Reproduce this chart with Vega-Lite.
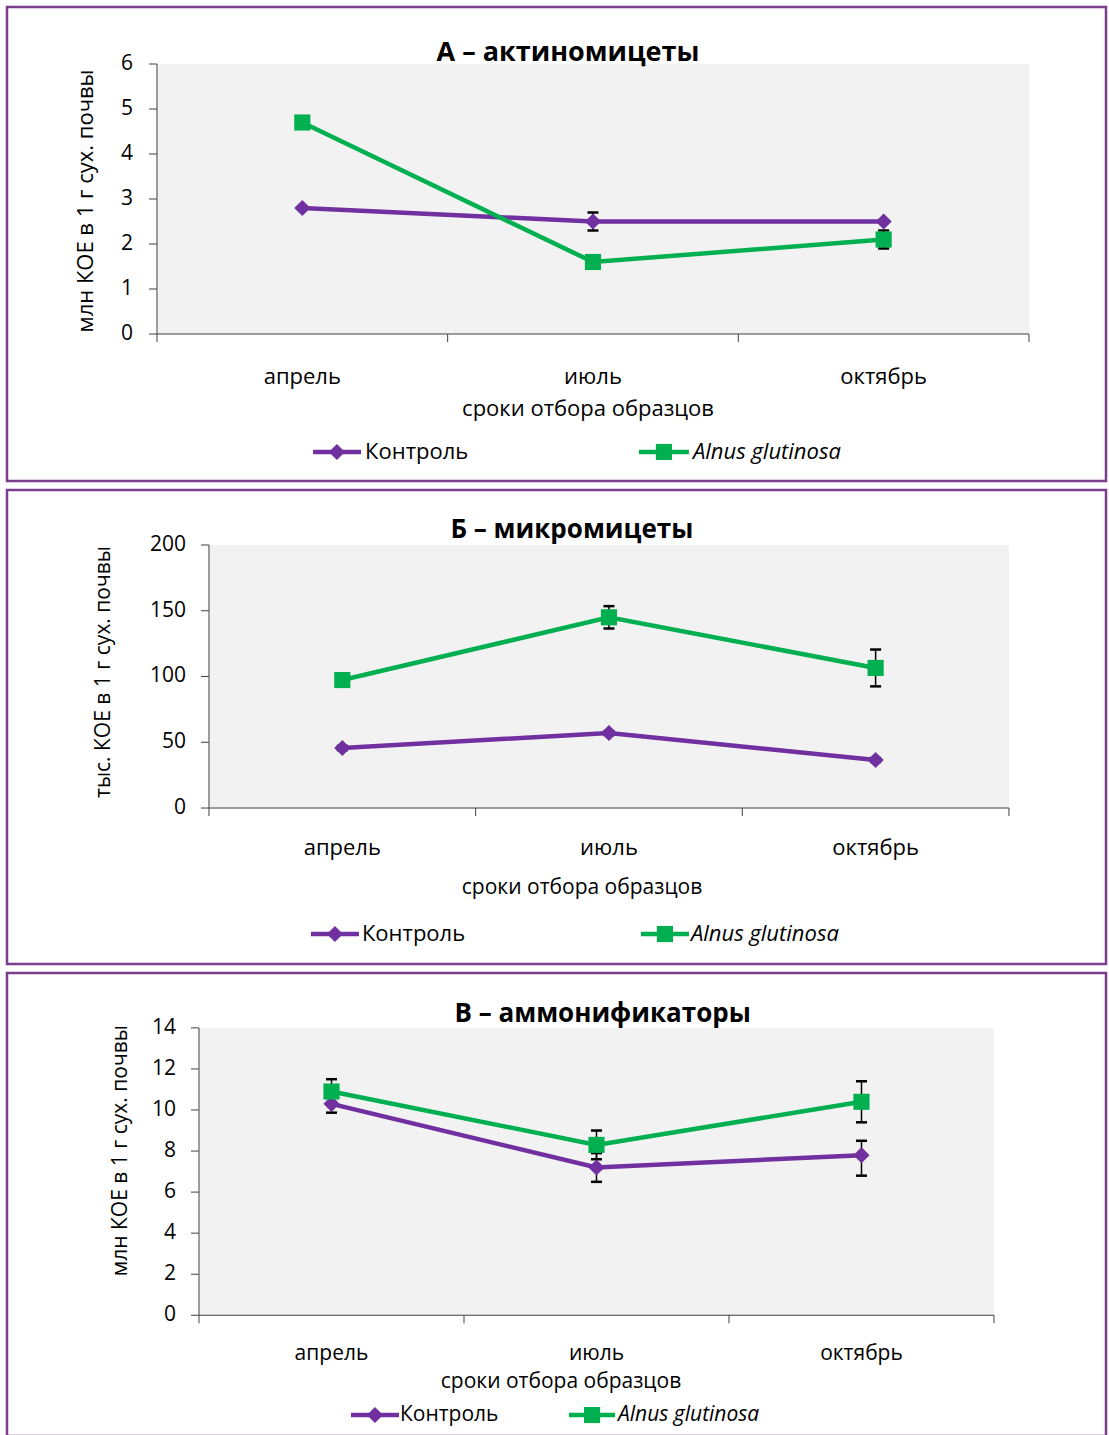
{
  "$schema": "https://vega.github.io/schema/vega-lite/v6.json",
  "padding": {"left": 5, "top": 5, "right": 0, "bottom": 0},
  "spacing": 5,
  "background": "white",
  "config": {
    "font": "Open Sans",
    "view": {"stroke": "#7B3D8E", "strokeWidth": 2.5, "fill": "white"},
    "legend": {"disable": true}
  },
  "datasets": {
    "months": [
      {"m": 4, "month": "апрель"},
      {"m": 7, "month": "июль"},
      {"m": 10, "month": "октябрь"}
    ],
    "bounds": [{"b": 2.5}, {"b": 5.5}, {"b": 8.5}, {"b": 11.5}],
    "tA": [{"t": 0}, {"t": 1}, {"t": 2}, {"t": 3}, {"t": 4}, {"t": 5}, {"t": 6}],
    "tB": [{"t": 0}, {"t": 50}, {"t": 100}, {"t": 150}, {"t": 200}],
    "tC": [{"t": 0}, {"t": 2}, {"t": 4}, {"t": 6}, {"t": 8}, {"t": 10}, {"t": 12}, {"t": 14}],
    "A": [
      {"m": 4, "series": "Контроль", "v": 2.8, "lo": 2.78, "hi": 2.82},
      {"m": 7, "series": "Контроль", "v": 2.5, "lo": 2.3, "hi": 2.7},
      {"m": 10, "series": "Контроль", "v": 2.5, "lo": 2.47, "hi": 2.53},
      {"m": 4, "series": "Alnus glutinosa", "v": 4.7, "lo": 4.65, "hi": 4.75},
      {"m": 7, "series": "Alnus glutinosa", "v": 1.6, "lo": 1.55, "hi": 1.65},
      {"m": 10, "series": "Alnus glutinosa", "v": 2.1, "lo": 1.9, "hi": 2.3}
    ],
    "B": [
      {"m": 4, "series": "Контроль", "v": 45.6, "lo": 44, "hi": 47.2},
      {"m": 7, "series": "Контроль", "v": 57, "lo": 55.5, "hi": 58.5},
      {"m": 10, "series": "Контроль", "v": 36.5, "lo": 35, "hi": 38},
      {"m": 4, "series": "Alnus glutinosa", "v": 97.3, "lo": 94.5, "hi": 100},
      {"m": 7, "series": "Alnus glutinosa", "v": 145, "lo": 136.5, "hi": 153.5},
      {"m": 10, "series": "Alnus glutinosa", "v": 106.5, "lo": 92.5, "hi": 120.5}
    ],
    "C": [
      {"m": 4, "series": "Контроль", "v": 10.3, "lo": 9.87, "hi": 10.73},
      {"m": 7, "series": "Контроль", "v": 7.2, "lo": 6.5, "hi": 7.9},
      {"m": 10, "series": "Контроль", "v": 7.8, "lo": 6.8, "hi": 8.5},
      {"m": 4, "series": "Alnus glutinosa", "v": 10.9, "lo": 10.3, "hi": 11.5},
      {"m": 7, "series": "Alnus glutinosa", "v": 8.3, "lo": 7.6, "hi": 9.0},
      {"m": 10, "series": "Alnus glutinosa", "v": 10.4, "lo": 9.4, "hi": 11.4}
    ]
  },
  "vconcat": [
    {
      "width": 1099, "height": 474,
      "layer": [
        {"data": {"values": [{}]}, "mark": {"type": "rect", "fill": "#F2F2F2"},
         "encoding": {
           "x": {"datum": 2.5, "type": "quantitative", "scale": {"domain": [0.952, 12.295], "nice": false, "zero": false}, "axis": null},
           "x2": {"datum": 11.5},
           "y": {"datum": 0, "type": "quantitative", "scale": {"domain": [-3.267, 7.267], "nice": false, "zero": false}, "axis": null},
           "y2": {"datum": 6}}},
        {"data": {"values": [{}]}, "mark": {"type": "rule", "color": "#404040", "strokeWidth": 1},
         "encoding": {
           "x": {"datum": 2.5, "type": "quantitative", "scale": {"domain": [0.952, 12.295], "nice": false, "zero": false}, "axis": null},
           "x2": {"datum": 11.5},
           "y": {"datum": 0, "type": "quantitative", "scale": {"domain": [-3.267, 7.267], "nice": false, "zero": false}, "axis": null}}},
        {"data": {"values": [{}]}, "mark": {"type": "rule", "color": "#404040", "strokeWidth": 1},
         "encoding": {
           "x": {"datum": 2.5, "type": "quantitative", "scale": {"domain": [0.952, 12.295], "nice": false, "zero": false}, "axis": null},
           "y": {"datum": 0, "type": "quantitative", "scale": {"domain": [-3.267, 7.267], "nice": false, "zero": false}, "axis": null},
           "y2": {"datum": 6}}},
        {"data": {"name": "tA"}, "mark": {"type": "rule", "color": "#404040", "strokeWidth": 1},
         "encoding": {
           "x": {"datum": 2.4174, "type": "quantitative", "scale": {"domain": [0.952, 12.295], "nice": false, "zero": false}, "axis": null},
           "x2": {"datum": 2.5},
           "y": {"field": "t", "type": "quantitative", "scale": {"domain": [-3.267, 7.267], "nice": false, "zero": false}, "axis": null}}},
        {"data": {"name": "tA"}, "mark": {"type": "text", "fontSize": 21, "color": "black", "align": "right", "baseline": "middle"},
         "encoding": {
           "x": {"datum": 2.252, "type": "quantitative", "scale": {"domain": [0.952, 12.295], "nice": false, "zero": false}, "axis": null},
           "y": {"field": "t", "type": "quantitative", "scale": {"domain": [-3.267, 7.267], "nice": false, "zero": false}, "axis": null},
           "text": {"field": "t", "type": "quantitative", "format": "d"}}},
        {"data": {"name": "bounds"}, "mark": {"type": "rule", "color": "#404040", "strokeWidth": 1},
         "encoding": {
           "x": {"field": "b", "type": "quantitative", "scale": {"domain": [0.952, 12.295], "nice": false, "zero": false}, "axis": null},
           "y": {"datum": 0, "type": "quantitative", "scale": {"domain": [-3.267, 7.267], "nice": false, "zero": false}, "axis": null},
           "y2": {"datum": -0.178}}},
        {"data": {"name": "A"}, "mark": {"type": "line", "strokeWidth": 4.5},
         "encoding": {
           "x": {"field": "m", "type": "quantitative", "scale": {"domain": [0.952, 12.295], "nice": false, "zero": false}, "axis": null},
           "y": {"field": "v", "type": "quantitative", "scale": {"domain": [-3.267, 7.267], "nice": false, "zero": false}, "axis": null},
           "color": {"field": "series", "type": "nominal", "scale": {"domain": ["Контроль", "Alnus glutinosa"], "range": ["#7030A0", "#00B050"]}}}},
        {"data": {"name": "A"}, "mark": {"type": "rule", "color": "black", "strokeWidth": 1.5},
         "encoding": {
           "x": {"field": "m", "type": "quantitative", "scale": {"domain": [0.952, 12.295], "nice": false, "zero": false}, "axis": null},
           "y": {"field": "lo", "type": "quantitative", "scale": {"domain": [-3.267, 7.267], "nice": false, "zero": false}, "axis": null},
           "y2": {"field": "hi"}}},
        {"data": {"name": "A"}, "mark": {"type": "tick", "orient": "horizontal", "color": "black", "size": 11, "thickness": 2.5, "opacity": 1},
         "encoding": {
           "x": {"field": "m", "type": "quantitative", "scale": {"domain": [0.952, 12.295], "nice": false, "zero": false}, "axis": null},
           "y": {"field": "lo", "type": "quantitative", "scale": {"domain": [-3.267, 7.267], "nice": false, "zero": false}, "axis": null}}},
        {"data": {"name": "A"}, "mark": {"type": "tick", "orient": "horizontal", "color": "black", "size": 11, "thickness": 2.5, "opacity": 1},
         "encoding": {
           "x": {"field": "m", "type": "quantitative", "scale": {"domain": [0.952, 12.295], "nice": false, "zero": false}, "axis": null},
           "y": {"field": "hi", "type": "quantitative", "scale": {"domain": [-3.267, 7.267], "nice": false, "zero": false}, "axis": null}}},
        {"data": {"name": "A"}, "mark": {"type": "point", "filled": true, "opacity": 1, "size": 260},
         "encoding": {
           "x": {"field": "m", "type": "quantitative", "scale": {"domain": [0.952, 12.295], "nice": false, "zero": false}, "axis": null},
           "y": {"field": "v", "type": "quantitative", "scale": {"domain": [-3.267, 7.267], "nice": false, "zero": false}, "axis": null},
           "color": {"field": "series", "type": "nominal", "scale": {"domain": ["Контроль", "Alnus glutinosa"], "range": ["#7030A0", "#00B050"]}},
           "shape": {"field": "series", "type": "nominal", "scale": {"domain": ["Контроль", "Alnus glutinosa"], "range": ["diamond", "square"]}}}},
        {"data": {"name": "months"}, "mark": {"type": "text", "fontSize": 22, "color": "black", "align": "center", "baseline": "middle"},
         "encoding": {
           "x": {"field": "m", "type": "quantitative", "scale": {"domain": [0.952, 12.295], "nice": false, "zero": false}, "axis": null},
           "y": {"datum": -0.956, "type": "quantitative", "scale": {"domain": [-3.267, 7.267], "nice": false, "zero": false}, "axis": null},
           "text": {"field": "month"}}},
        {"data": {"values": [{}]}, "mark": {"type": "text", "text": "А – актиномицеты", "fontSize": 27, "fontWeight": "bold", "color": "black", "align": "center", "baseline": "middle"},
         "encoding": {
           "x": {"datum": 6.742, "type": "quantitative", "scale": {"domain": [0.952, 12.295], "nice": false, "zero": false}, "axis": null},
           "y": {"datum": 6.244, "type": "quantitative", "scale": {"domain": [-3.267, 7.267], "nice": false, "zero": false}, "axis": null}}},
        {"data": {"values": [{}]}, "mark": {"type": "text", "text": "сроки отбора образцов", "fontSize": 22, "color": "black", "align": "center", "baseline": "middle"},
         "encoding": {
           "x": {"datum": 6.949, "type": "quantitative", "scale": {"domain": [0.952, 12.295], "nice": false, "zero": false}, "axis": null},
           "y": {"datum": -1.667, "type": "quantitative", "scale": {"domain": [-3.267, 7.267], "nice": false, "zero": false}, "axis": null}}},
        {"data": {"values": [{}]}, "mark": {"type": "text", "text": "млн КОЕ в 1 г сух. почвы", "fontSize": 22, "angle": 270, "color": "black", "align": "center", "baseline": "middle"},
         "encoding": {
           "x": {"datum": 1.768, "type": "quantitative", "scale": {"domain": [0.952, 12.295], "nice": false, "zero": false}, "axis": null},
           "y": {"datum": 2.956, "type": "quantitative", "scale": {"domain": [-3.267, 7.267], "nice": false, "zero": false}, "axis": null}}},
        {"data": {"values": [{"series": "Контроль"}]}, "mark": {"type": "rule", "strokeWidth": 4.5},
         "encoding": {
           "x": {"datum": 4.111, "type": "quantitative", "scale": {"domain": [0.952, 12.295], "nice": false, "zero": false}, "axis": null},
           "x2": {"datum": 4.606},
           "y": {"datum": -2.622, "type": "quantitative", "scale": {"domain": [-3.267, 7.267], "nice": false, "zero": false}, "axis": null},
           "color": {"field": "series", "type": "nominal", "scale": {"domain": ["Контроль", "Alnus glutinosa"], "range": ["#7030A0", "#00B050"]}}}},
        {"data": {"values": [{"series": "Контроль"}]}, "mark": {"type": "point", "filled": true, "opacity": 1, "size": 260},
         "encoding": {
           "x": {"datum": 4.357, "type": "quantitative", "scale": {"domain": [0.952, 12.295], "nice": false, "zero": false}, "axis": null},
           "y": {"datum": -2.622, "type": "quantitative", "scale": {"domain": [-3.267, 7.267], "nice": false, "zero": false}, "axis": null},
           "color": {"field": "series", "type": "nominal", "scale": {"domain": ["Контроль", "Alnus glutinosa"], "range": ["#7030A0", "#00B050"]}},
           "shape": {"field": "series", "type": "nominal", "scale": {"domain": ["Контроль", "Alnus glutinosa"], "range": ["diamond", "square"]}}}},
        {"data": {"values": [{"series": "Контроль"}]}, "mark": {"type": "text", "fontSize": 22, "color": "black", "align": "left", "baseline": "middle"},
         "encoding": {
           "x": {"datum": 4.648, "type": "quantitative", "scale": {"domain": [0.952, 12.295], "nice": false, "zero": false}, "axis": null},
           "y": {"datum": -2.622, "type": "quantitative", "scale": {"domain": [-3.267, 7.267], "nice": false, "zero": false}, "axis": null},
           "text": {"field": "series"}}},
        {"data": {"values": [{"series": "Alnus glutinosa"}]}, "mark": {"type": "rule", "strokeWidth": 4.5},
         "encoding": {
           "x": {"datum": 7.474, "type": "quantitative", "scale": {"domain": [0.952, 12.295], "nice": false, "zero": false}, "axis": null},
           "x2": {"datum": 7.99},
           "y": {"datum": -2.622, "type": "quantitative", "scale": {"domain": [-3.267, 7.267], "nice": false, "zero": false}, "axis": null},
           "color": {"field": "series", "type": "nominal", "scale": {"domain": ["Контроль", "Alnus glutinosa"], "range": ["#7030A0", "#00B050"]}}}},
        {"data": {"values": [{"series": "Alnus glutinosa"}]}, "mark": {"type": "point", "filled": true, "opacity": 1, "size": 260},
         "encoding": {
           "x": {"datum": 7.732, "type": "quantitative", "scale": {"domain": [0.952, 12.295], "nice": false, "zero": false}, "axis": null},
           "y": {"datum": -2.622, "type": "quantitative", "scale": {"domain": [-3.267, 7.267], "nice": false, "zero": false}, "axis": null},
           "color": {"field": "series", "type": "nominal", "scale": {"domain": ["Контроль", "Alnus glutinosa"], "range": ["#7030A0", "#00B050"]}},
           "shape": {"field": "series", "type": "nominal", "scale": {"domain": ["Контроль", "Alnus glutinosa"], "range": ["diamond", "square"]}}}},
        {"data": {"values": [{"series": "Alnus glutinosa"}]}, "mark": {"type": "text", "fontSize": 22, "fontStyle": "italic", "color": "black", "align": "left", "baseline": "middle"},
         "encoding": {
           "x": {"datum": 8.032, "type": "quantitative", "scale": {"domain": [0.952, 12.295], "nice": false, "zero": false}, "axis": null},
           "y": {"datum": -2.622, "type": "quantitative", "scale": {"domain": [-3.267, 7.267], "nice": false, "zero": false}, "axis": null},
           "text": {"field": "series"}}}
      ]
    },
    {
      "width": 1099, "height": 474,
      "layer": [
        {"data": {"values": [{}]}, "mark": {"type": "rect", "fill": "#F2F2F2"},
         "encoding": {
           "x": {"datum": 2.5, "type": "quantitative", "scale": {"domain": [0.2275, 12.592], "nice": false, "zero": false}, "axis": null},
           "x2": {"datum": 11.5},
           "y": {"datum": 0, "type": "quantitative", "scale": {"domain": [-118.6, 241.8], "nice": false, "zero": false}, "axis": null},
           "y2": {"datum": 200}}},
        {"data": {"values": [{}]}, "mark": {"type": "rule", "color": "#404040", "strokeWidth": 1},
         "encoding": {
           "x": {"datum": 2.5, "type": "quantitative", "scale": {"domain": [0.2275, 12.592], "nice": false, "zero": false}, "axis": null},
           "x2": {"datum": 11.5},
           "y": {"datum": 0, "type": "quantitative", "scale": {"domain": [-118.6, 241.8], "nice": false, "zero": false}, "axis": null}}},
        {"data": {"values": [{}]}, "mark": {"type": "rule", "color": "#404040", "strokeWidth": 1},
         "encoding": {
           "x": {"datum": 2.5, "type": "quantitative", "scale": {"domain": [0.2275, 12.592], "nice": false, "zero": false}, "axis": null},
           "y": {"datum": 0, "type": "quantitative", "scale": {"domain": [-118.6, 241.8], "nice": false, "zero": false}, "axis": null},
           "y2": {"datum": 200}}},
        {"data": {"name": "tB"}, "mark": {"type": "rule", "color": "#404040", "strokeWidth": 1},
         "encoding": {
           "x": {"datum": 2.41, "type": "quantitative", "scale": {"domain": [0.2275, 12.592], "nice": false, "zero": false}, "axis": null},
           "x2": {"datum": 2.5},
           "y": {"field": "t", "type": "quantitative", "scale": {"domain": [-118.6, 241.8], "nice": false, "zero": false}, "axis": null}}},
        {"data": {"name": "tB"}, "mark": {"type": "text", "fontSize": 21, "color": "black", "align": "right", "baseline": "middle"},
         "encoding": {
           "x": {"datum": 2.241, "type": "quantitative", "scale": {"domain": [0.2275, 12.592], "nice": false, "zero": false}, "axis": null},
           "y": {"field": "t", "type": "quantitative", "scale": {"domain": [-118.6, 241.8], "nice": false, "zero": false}, "axis": null},
           "text": {"field": "t", "type": "quantitative", "format": "d"}}},
        {"data": {"name": "bounds"}, "mark": {"type": "rule", "color": "#404040", "strokeWidth": 1},
         "encoding": {
           "x": {"field": "b", "type": "quantitative", "scale": {"domain": [0.2275, 12.592], "nice": false, "zero": false}, "axis": null},
           "y": {"datum": 0, "type": "quantitative", "scale": {"domain": [-118.6, 241.8], "nice": false, "zero": false}, "axis": null},
           "y2": {"datum": -6.08}}},
        {"data": {"name": "B"}, "mark": {"type": "line", "strokeWidth": 4.5},
         "encoding": {
           "x": {"field": "m", "type": "quantitative", "scale": {"domain": [0.2275, 12.592], "nice": false, "zero": false}, "axis": null},
           "y": {"field": "v", "type": "quantitative", "scale": {"domain": [-118.6, 241.8], "nice": false, "zero": false}, "axis": null},
           "color": {"field": "series", "type": "nominal", "scale": {"domain": ["Контроль", "Alnus glutinosa"], "range": ["#7030A0", "#00B050"]}}}},
        {"data": {"name": "B"}, "mark": {"type": "rule", "color": "black", "strokeWidth": 1.5},
         "encoding": {
           "x": {"field": "m", "type": "quantitative", "scale": {"domain": [0.2275, 12.592], "nice": false, "zero": false}, "axis": null},
           "y": {"field": "lo", "type": "quantitative", "scale": {"domain": [-118.6, 241.8], "nice": false, "zero": false}, "axis": null},
           "y2": {"field": "hi"}}},
        {"data": {"name": "B"}, "mark": {"type": "tick", "orient": "horizontal", "color": "black", "size": 11, "thickness": 2.5, "opacity": 1},
         "encoding": {
           "x": {"field": "m", "type": "quantitative", "scale": {"domain": [0.2275, 12.592], "nice": false, "zero": false}, "axis": null},
           "y": {"field": "lo", "type": "quantitative", "scale": {"domain": [-118.6, 241.8], "nice": false, "zero": false}, "axis": null}}},
        {"data": {"name": "B"}, "mark": {"type": "tick", "orient": "horizontal", "color": "black", "size": 11, "thickness": 2.5, "opacity": 1},
         "encoding": {
           "x": {"field": "m", "type": "quantitative", "scale": {"domain": [0.2275, 12.592], "nice": false, "zero": false}, "axis": null},
           "y": {"field": "hi", "type": "quantitative", "scale": {"domain": [-118.6, 241.8], "nice": false, "zero": false}, "axis": null}}},
        {"data": {"name": "B"}, "mark": {"type": "point", "filled": true, "opacity": 1, "size": 260},
         "encoding": {
           "x": {"field": "m", "type": "quantitative", "scale": {"domain": [0.2275, 12.592], "nice": false, "zero": false}, "axis": null},
           "y": {"field": "v", "type": "quantitative", "scale": {"domain": [-118.6, 241.8], "nice": false, "zero": false}, "axis": null},
           "color": {"field": "series", "type": "nominal", "scale": {"domain": ["Контроль", "Alnus glutinosa"], "range": ["#7030A0", "#00B050"]}},
           "shape": {"field": "series", "type": "nominal", "scale": {"domain": ["Контроль", "Alnus glutinosa"], "range": ["diamond", "square"]}}}},
        {"data": {"name": "months"}, "mark": {"type": "text", "fontSize": 22, "color": "black", "align": "center", "baseline": "middle"},
         "encoding": {
           "x": {"field": "m", "type": "quantitative", "scale": {"domain": [0.2275, 12.592], "nice": false, "zero": false}, "axis": null},
           "y": {"datum": -30.4, "type": "quantitative", "scale": {"domain": [-118.6, 241.8], "nice": false, "zero": false}, "axis": null},
           "text": {"field": "month"}}},
        {"data": {"values": [{}]}, "mark": {"type": "text", "text": "Б – микромицеты", "fontSize": 26, "fontWeight": "bold", "color": "black", "align": "center", "baseline": "middle"},
         "encoding": {
           "x": {"datum": 6.583, "type": "quantitative", "scale": {"domain": [0.2275, 12.592], "nice": false, "zero": false}, "axis": null},
           "y": {"datum": 211.4, "type": "quantitative", "scale": {"domain": [-118.6, 241.8], "nice": false, "zero": false}, "axis": null}}},
        {"data": {"values": [{}]}, "mark": {"type": "text", "text": "сроки отбора образцов", "fontSize": 21, "color": "black", "align": "center", "baseline": "middle"},
         "encoding": {
           "x": {"datum": 6.697, "type": "quantitative", "scale": {"domain": [0.2275, 12.592], "nice": false, "zero": false}, "axis": null},
           "y": {"datum": -60.8, "type": "quantitative", "scale": {"domain": [-118.6, 241.8], "nice": false, "zero": false}, "axis": null}}},
        {"data": {"values": [{}]}, "mark": {"type": "text", "text": "тыс. КОЕ в 1 г сух. почвы", "fontSize": 21, "angle": 270, "color": "black", "align": "center", "baseline": "middle"},
         "encoding": {
           "x": {"datum": 1.319, "type": "quantitative", "scale": {"domain": [0.2275, 12.592], "nice": false, "zero": false}, "axis": null},
           "y": {"datum": 103.4, "type": "quantitative", "scale": {"domain": [-118.6, 241.8], "nice": false, "zero": false}, "axis": null}}},
        {"data": {"values": [{"series": "Контроль"}]}, "mark": {"type": "rule", "strokeWidth": 4.5},
         "encoding": {
           "x": {"datum": 3.647, "type": "quantitative", "scale": {"domain": [0.2275, 12.592], "nice": false, "zero": false}, "axis": null},
           "x2": {"datum": 4.187},
           "y": {"datum": -95.8, "type": "quantitative", "scale": {"domain": [-118.6, 241.8], "nice": false, "zero": false}, "axis": null},
           "color": {"field": "series", "type": "nominal", "scale": {"domain": ["Контроль", "Alnus glutinosa"], "range": ["#7030A0", "#00B050"]}}}},
        {"data": {"values": [{"series": "Контроль"}]}, "mark": {"type": "point", "filled": true, "opacity": 1, "size": 260},
         "encoding": {
           "x": {"datum": 3.917, "type": "quantitative", "scale": {"domain": [0.2275, 12.592], "nice": false, "zero": false}, "axis": null},
           "y": {"datum": -95.8, "type": "quantitative", "scale": {"domain": [-118.6, 241.8], "nice": false, "zero": false}, "axis": null},
           "color": {"field": "series", "type": "nominal", "scale": {"domain": ["Контроль", "Alnus glutinosa"], "range": ["#7030A0", "#00B050"]}},
           "shape": {"field": "series", "type": "nominal", "scale": {"domain": ["Контроль", "Alnus glutinosa"], "range": ["diamond", "square"]}}}},
        {"data": {"values": [{"series": "Контроль"}]}, "mark": {"type": "text", "fontSize": 22, "color": "black", "align": "left", "baseline": "middle"},
         "encoding": {
           "x": {"datum": 4.221, "type": "quantitative", "scale": {"domain": [0.2275, 12.592], "nice": false, "zero": false}, "axis": null},
           "y": {"datum": -95.8, "type": "quantitative", "scale": {"domain": [-118.6, 241.8], "nice": false, "zero": false}, "axis": null},
           "text": {"field": "series"}}},
        {"data": {"values": [{"series": "Alnus glutinosa"}]}, "mark": {"type": "rule", "strokeWidth": 4.5},
         "encoding": {
           "x": {"datum": 7.36, "type": "quantitative", "scale": {"domain": [0.2275, 12.592], "nice": false, "zero": false}, "axis": null},
           "x2": {"datum": 7.9},
           "y": {"datum": -95.8, "type": "quantitative", "scale": {"domain": [-118.6, 241.8], "nice": false, "zero": false}, "axis": null},
           "color": {"field": "series", "type": "nominal", "scale": {"domain": ["Контроль", "Alnus glutinosa"], "range": ["#7030A0", "#00B050"]}}}},
        {"data": {"values": [{"series": "Alnus glutinosa"}]}, "mark": {"type": "point", "filled": true, "opacity": 1, "size": 260},
         "encoding": {
           "x": {"datum": 7.63, "type": "quantitative", "scale": {"domain": [0.2275, 12.592], "nice": false, "zero": false}, "axis": null},
           "y": {"datum": -95.8, "type": "quantitative", "scale": {"domain": [-118.6, 241.8], "nice": false, "zero": false}, "axis": null},
           "color": {"field": "series", "type": "nominal", "scale": {"domain": ["Контроль", "Alnus glutinosa"], "range": ["#7030A0", "#00B050"]}},
           "shape": {"field": "series", "type": "nominal", "scale": {"domain": ["Контроль", "Alnus glutinosa"], "range": ["diamond", "square"]}}}},
        {"data": {"values": [{"series": "Alnus glutinosa"}]}, "mark": {"type": "text", "fontSize": 22, "fontStyle": "italic", "color": "black", "align": "left", "baseline": "middle"},
         "encoding": {
           "x": {"datum": 7.9225, "type": "quantitative", "scale": {"domain": [0.2275, 12.592], "nice": false, "zero": false}, "axis": null},
           "y": {"datum": -95.8, "type": "quantitative", "scale": {"domain": [-118.6, 241.8], "nice": false, "zero": false}, "axis": null},
           "text": {"field": "series"}}}
      ]
    },
    {
      "width": 1099, "height": 463,
      "layer": [
        {"data": {"values": [{}]}, "mark": {"type": "rect", "fill": "#F2F2F2"},
         "encoding": {
           "x": {"datum": 2.5, "type": "quantitative", "scale": {"domain": [0.3265, 12.768], "nice": false, "zero": false}, "axis": null},
           "x2": {"datum": 11.5},
           "y": {"datum": 0, "type": "quantitative", "scale": {"domain": [-5.882, 16.674], "nice": false, "zero": false}, "axis": null},
           "y2": {"datum": 14}}},
        {"data": {"values": [{}]}, "mark": {"type": "rule", "color": "#404040", "strokeWidth": 1},
         "encoding": {
           "x": {"datum": 2.5, "type": "quantitative", "scale": {"domain": [0.3265, 12.768], "nice": false, "zero": false}, "axis": null},
           "x2": {"datum": 11.5},
           "y": {"datum": 0, "type": "quantitative", "scale": {"domain": [-5.882, 16.674], "nice": false, "zero": false}, "axis": null}}},
        {"data": {"values": [{}]}, "mark": {"type": "rule", "color": "#404040", "strokeWidth": 1},
         "encoding": {
           "x": {"datum": 2.5, "type": "quantitative", "scale": {"domain": [0.3265, 12.768], "nice": false, "zero": false}, "axis": null},
           "y": {"datum": 0, "type": "quantitative", "scale": {"domain": [-5.882, 16.674], "nice": false, "zero": false}, "axis": null},
           "y2": {"datum": 14}}},
        {"data": {"name": "tC"}, "mark": {"type": "rule", "color": "#404040", "strokeWidth": 1},
         "encoding": {
           "x": {"datum": 2.4094, "type": "quantitative", "scale": {"domain": [0.3265, 12.768], "nice": false, "zero": false}, "axis": null},
           "x2": {"datum": 2.5},
           "y": {"field": "t", "type": "quantitative", "scale": {"domain": [-5.882, 16.674], "nice": false, "zero": false}, "axis": null}}},
        {"data": {"name": "tC"}, "mark": {"type": "text", "fontSize": 21, "color": "black", "align": "right", "baseline": "middle"},
         "encoding": {
           "x": {"datum": 2.24, "type": "quantitative", "scale": {"domain": [0.3265, 12.768], "nice": false, "zero": false}, "axis": null},
           "y": {"field": "t", "type": "quantitative", "scale": {"domain": [-5.882, 16.674], "nice": false, "zero": false}, "axis": null},
           "text": {"field": "t", "type": "quantitative", "format": "d"}}},
        {"data": {"name": "bounds"}, "mark": {"type": "rule", "color": "#404040", "strokeWidth": 1},
         "encoding": {
           "x": {"field": "b", "type": "quantitative", "scale": {"domain": [0.3265, 12.768], "nice": false, "zero": false}, "axis": null},
           "y": {"datum": 0, "type": "quantitative", "scale": {"domain": [-5.882, 16.674], "nice": false, "zero": false}, "axis": null},
           "y2": {"datum": -0.389}}},
        {"data": {"name": "C"}, "mark": {"type": "line", "strokeWidth": 4.5},
         "encoding": {
           "x": {"field": "m", "type": "quantitative", "scale": {"domain": [0.3265, 12.768], "nice": false, "zero": false}, "axis": null},
           "y": {"field": "v", "type": "quantitative", "scale": {"domain": [-5.882, 16.674], "nice": false, "zero": false}, "axis": null},
           "color": {"field": "series", "type": "nominal", "scale": {"domain": ["Контроль", "Alnus glutinosa"], "range": ["#7030A0", "#00B050"]}}}},
        {"data": {"name": "C"}, "mark": {"type": "rule", "color": "black", "strokeWidth": 1.5},
         "encoding": {
           "x": {"field": "m", "type": "quantitative", "scale": {"domain": [0.3265, 12.768], "nice": false, "zero": false}, "axis": null},
           "y": {"field": "lo", "type": "quantitative", "scale": {"domain": [-5.882, 16.674], "nice": false, "zero": false}, "axis": null},
           "y2": {"field": "hi"}}},
        {"data": {"name": "C"}, "mark": {"type": "tick", "orient": "horizontal", "color": "black", "size": 11, "thickness": 2.5, "opacity": 1},
         "encoding": {
           "x": {"field": "m", "type": "quantitative", "scale": {"domain": [0.3265, 12.768], "nice": false, "zero": false}, "axis": null},
           "y": {"field": "lo", "type": "quantitative", "scale": {"domain": [-5.882, 16.674], "nice": false, "zero": false}, "axis": null}}},
        {"data": {"name": "C"}, "mark": {"type": "tick", "orient": "horizontal", "color": "black", "size": 11, "thickness": 2.5, "opacity": 1},
         "encoding": {
           "x": {"field": "m", "type": "quantitative", "scale": {"domain": [0.3265, 12.768], "nice": false, "zero": false}, "axis": null},
           "y": {"field": "hi", "type": "quantitative", "scale": {"domain": [-5.882, 16.674], "nice": false, "zero": false}, "axis": null}}},
        {"data": {"name": "C"}, "mark": {"type": "point", "filled": true, "opacity": 1, "size": 260},
         "encoding": {
           "x": {"field": "m", "type": "quantitative", "scale": {"domain": [0.3265, 12.768], "nice": false, "zero": false}, "axis": null},
           "y": {"field": "v", "type": "quantitative", "scale": {"domain": [-5.882, 16.674], "nice": false, "zero": false}, "axis": null},
           "color": {"field": "series", "type": "nominal", "scale": {"domain": ["Контроль", "Alnus glutinosa"], "range": ["#7030A0", "#00B050"]}},
           "shape": {"field": "series", "type": "nominal", "scale": {"domain": ["Контроль", "Alnus glutinosa"], "range": ["diamond", "square"]}}}},
        {"data": {"name": "months"}, "mark": {"type": "text", "fontSize": 21, "color": "black", "align": "center", "baseline": "middle"},
         "encoding": {
           "x": {"field": "m", "type": "quantitative", "scale": {"domain": [0.3265, 12.768], "nice": false, "zero": false}, "axis": null},
           "y": {"datum": -1.896, "type": "quantitative", "scale": {"domain": [-5.882, 16.674], "nice": false, "zero": false}, "axis": null},
           "text": {"field": "month"}}},
        {"data": {"values": [{}]}, "mark": {"type": "text", "text": "В – аммонификаторы", "fontSize": 26, "fontWeight": "bold", "color": "black", "align": "center", "baseline": "middle"},
         "encoding": {
           "x": {"datum": 7.07, "type": "quantitative", "scale": {"domain": [0.3265, 12.768], "nice": false, "zero": false}, "axis": null},
           "y": {"datum": 14.68, "type": "quantitative", "scale": {"domain": [-5.882, 16.674], "nice": false, "zero": false}, "axis": null}}},
        {"data": {"values": [{}]}, "mark": {"type": "text", "text": "сроки отбора образцов", "fontSize": 21, "color": "black", "align": "center", "baseline": "middle"},
         "encoding": {
           "x": {"datum": 6.598, "type": "quantitative", "scale": {"domain": [0.3265, 12.768], "nice": false, "zero": false}, "axis": null},
           "y": {"datum": -3.257, "type": "quantitative", "scale": {"domain": [-5.882, 16.674], "nice": false, "zero": false}, "axis": null}}},
        {"data": {"values": [{}]}, "mark": {"type": "text", "text": "млн КОЕ в 1 г сух. почвы", "fontSize": 21, "angle": 270, "color": "black", "align": "center", "baseline": "middle"},
         "encoding": {
           "x": {"datum": 1.617, "type": "quantitative", "scale": {"domain": [0.3265, 12.768], "nice": false, "zero": false}, "axis": null},
           "y": {"datum": 8.02, "type": "quantitative", "scale": {"domain": [-5.882, 16.674], "nice": false, "zero": false}, "axis": null}}},
        {"data": {"values": [{"series": "Контроль"}]}, "mark": {"type": "rule", "strokeWidth": 4.5},
         "encoding": {
           "x": {"datum": 4.221, "type": "quantitative", "scale": {"domain": [0.3265, 12.768], "nice": false, "zero": false}, "axis": null},
           "x2": {"datum": 4.764},
           "y": {"datum": -4.861, "type": "quantitative", "scale": {"domain": [-5.882, 16.674], "nice": false, "zero": false}, "axis": null},
           "color": {"field": "series", "type": "nominal", "scale": {"domain": ["Контроль", "Alnus glutinosa"], "range": ["#7030A0", "#00B050"]}}}},
        {"data": {"values": [{"series": "Контроль"}]}, "mark": {"type": "point", "filled": true, "opacity": 1, "size": 260},
         "encoding": {
           "x": {"datum": 4.492, "type": "quantitative", "scale": {"domain": [0.3265, 12.768], "nice": false, "zero": false}, "axis": null},
           "y": {"datum": -4.861, "type": "quantitative", "scale": {"domain": [-5.882, 16.674], "nice": false, "zero": false}, "axis": null},
           "color": {"field": "series", "type": "nominal", "scale": {"domain": ["Контроль", "Alnus glutinosa"], "range": ["#7030A0", "#00B050"]}},
           "shape": {"field": "series", "type": "nominal", "scale": {"domain": ["Контроль", "Alnus glutinosa"], "range": ["diamond", "square"]}}}},
        {"data": {"values": [{"series": "Контроль"}]}, "mark": {"type": "text", "fontSize": 21, "color": "black", "align": "left", "baseline": "middle"},
         "encoding": {
           "x": {"datum": 4.775, "type": "quantitative", "scale": {"domain": [0.3265, 12.768], "nice": false, "zero": false}, "axis": null},
           "y": {"datum": -4.861, "type": "quantitative", "scale": {"domain": [-5.882, 16.674], "nice": false, "zero": false}, "axis": null},
           "text": {"field": "series"}}},
        {"data": {"values": [{"series": "Alnus glutinosa"}]}, "mark": {"type": "rule", "strokeWidth": 4.5},
         "encoding": {
           "x": {"datum": 6.689, "type": "quantitative", "scale": {"domain": [0.3265, 12.768], "nice": false, "zero": false}, "axis": null},
           "x2": {"datum": 7.21},
           "y": {"datum": -4.861, "type": "quantitative", "scale": {"domain": [-5.882, 16.674], "nice": false, "zero": false}, "axis": null},
           "color": {"field": "series", "type": "nominal", "scale": {"domain": ["Контроль", "Alnus glutinosa"], "range": ["#7030A0", "#00B050"]}}}},
        {"data": {"values": [{"series": "Alnus glutinosa"}]}, "mark": {"type": "point", "filled": true, "opacity": 1, "size": 260},
         "encoding": {
           "x": {"datum": 6.95, "type": "quantitative", "scale": {"domain": [0.3265, 12.768], "nice": false, "zero": false}, "axis": null},
           "y": {"datum": -4.861, "type": "quantitative", "scale": {"domain": [-5.882, 16.674], "nice": false, "zero": false}, "axis": null},
           "color": {"field": "series", "type": "nominal", "scale": {"domain": ["Контроль", "Alnus glutinosa"], "range": ["#7030A0", "#00B050"]}},
           "shape": {"field": "series", "type": "nominal", "scale": {"domain": ["Контроль", "Alnus glutinosa"], "range": ["diamond", "square"]}}}},
        {"data": {"values": [{"series": "Alnus glutinosa"}]}, "mark": {"type": "text", "fontSize": 21, "fontStyle": "italic", "color": "black", "align": "left", "baseline": "middle"},
         "encoding": {
           "x": {"datum": 7.244, "type": "quantitative", "scale": {"domain": [0.3265, 12.768], "nice": false, "zero": false}, "axis": null},
           "y": {"datum": -4.861, "type": "quantitative", "scale": {"domain": [-5.882, 16.674], "nice": false, "zero": false}, "axis": null},
           "text": {"field": "series"}}}
      ]
    }
  ]
}
